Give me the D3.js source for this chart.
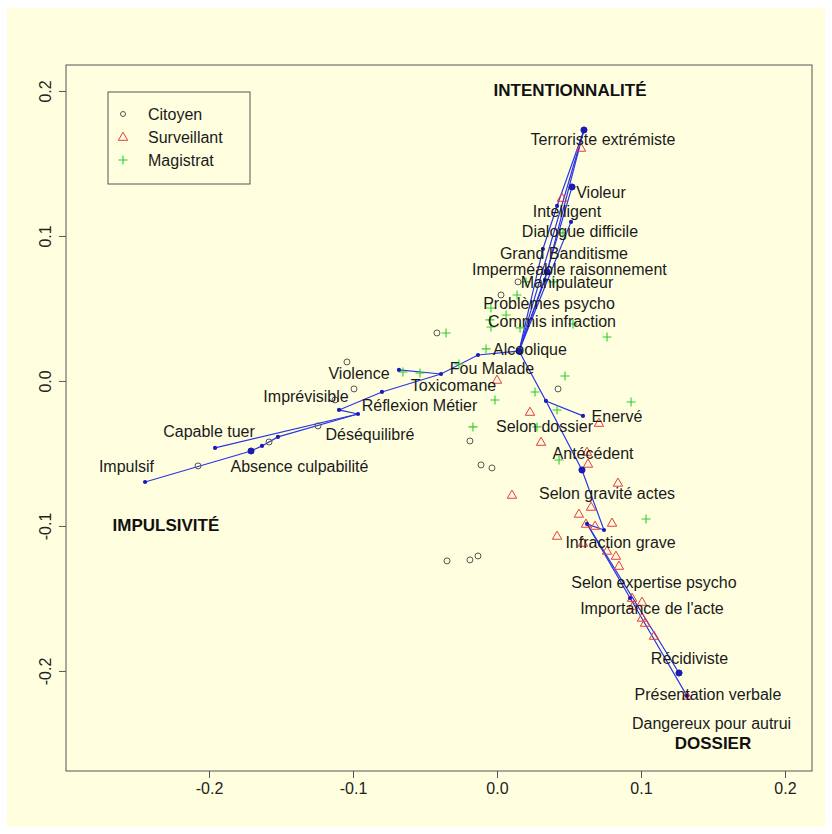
<!DOCTYPE html>
<html>
<head>
<meta charset="utf-8">
<script src="https://cdn.jsdelivr.net/npm/d3@7"></script>
<style>
  html, body { margin: 0; padding: 0; background: #ffffff; }
  svg { display: block; font-family: "Liberation Sans", Arial, sans-serif; }
</style>
</head>
<body>
<svg id="chart" width="832" height="834"></svg>
<script>
// Factor map coordinates (dimension 1, dimension 2)

// Respondent groups
const citoyen = [
  [-0.0417, 0.0331], [-0.1042, 0.0131], [-0.0993, -0.0055], [-0.1125, -0.0131],
  [-0.1243, -0.0310], [-0.1583, -0.0421], [-0.1708, -0.0483], [-0.2076, -0.0586],
  [0.0146, 0.0683], [0.0028, 0.0593], [0.0424, -0.0055], [-0.0188, -0.0414],
  [-0.0111, -0.0579], [-0.0035, -0.0600], [-0.0347, -0.1241], [-0.0188, -0.1234],
  [-0.0132, -0.1207], [0.0604, 0.1731], [0.0521, 0.1338], [0.0590, -0.0614],
  [0.1264, -0.2014]
];

const surveillant = [
  [0.0583, 0.1607], [0.0451, 0.1262], [0.0000, 0.0007], [0.0229, -0.0214],
  [0.0708, -0.0290], [0.0306, -0.0421], [0.0625, -0.0490], [0.0632, -0.0572],
  [0.0840, -0.0703], [0.0104, -0.0786], [0.0653, -0.0869], [0.0569, -0.0917],
  [0.0799, -0.0979], [0.0681, -0.1000], [0.0618, -0.0986], [0.0417, -0.1069],
  [0.0597, -0.1117], [0.0764, -0.1172], [0.0826, -0.1207], [0.0847, -0.1276],
  [0.0938, -0.1497], [0.1007, -0.1524], [0.0944, -0.1552], [0.1007, -0.1634],
  [0.1028, -0.1669], [0.1090, -0.1759], [0.1319, -0.2172]
];

const magistrat = [
  [0.0458, 0.1021], [0.0201, 0.0683], [0.0389, 0.0683], [0.0139, 0.0593],
  [-0.0042, 0.0503], [0.0063, 0.0455], [-0.0049, 0.0421], [-0.0042, 0.0372],
  [0.0160, 0.0366], [0.0528, 0.0393], [-0.0354, 0.0331], [0.0764, 0.0303],
  [-0.0076, 0.0221], [-0.0264, 0.0117], [-0.0653, 0.0062], [-0.0535, 0.0055],
  [0.0472, 0.0034], [0.0264, -0.0076], [-0.0014, -0.0131], [0.0931, -0.0145],
  [0.0417, -0.0200], [-0.0167, -0.0317], [0.0278, -0.0317], [0.0431, -0.0545],
  [0.1035, -0.0952]
];

// Nodes of the connecting network
const nodeNames = ["H", "T", "V", "I1", "I2", "G", "M1", "M2", "F1", "Tx", "Vi", "R1", "R2", "R3",
  "C", "D1", "D2", "D3", "Imp", "S1", "E", "A", "G2", "G3", "P1", "Rc", "Pv"];
const nodeX = [0.0153, 0.0604, 0.0521, 0.0514, 0.0417, 0.0319, 0.0347, 0.0333, -0.0132, -0.0389,
  -0.0681, -0.0799, -0.1097, -0.0965, -0.1958, -0.1521, -0.1632, -0.1708, -0.2444, 0.0340,
  0.0597, 0.0590, 0.0743, 0.0625, 0.0924, 0.1264, 0.1319];
const nodeY = [0.0207, 0.1731, 0.1338, 0.1097, 0.1207, 0.0910, 0.0752, 0.0697, 0.0179, 0.0048,
  0.0076, -0.0076, -0.0200, -0.0228, -0.0462, -0.0386, -0.0448, -0.0483, -0.0697, -0.0138,
  -0.0241, -0.0614, -0.1028, -0.0986, -0.1497, -0.2014, -0.2172];
const bigNodes = ["H", "T", "V", "A", "Rc", "D3", "M1"];

// Chains of nodes joined by segments
const chains = [
  ["H", "M2", "T"],
  ["H", "G", "I2", "T"],
  ["H", "T"],
  ["H", "M1", "V"],
  ["H", "I1"],
  ["H", "F1", "Tx", "Vi"],
  ["Tx", "R1", "R2", "R3", "C"],
  ["R3", "D1", "D2", "D3", "Imp"],
  ["H", "S1", "E"],
  ["S1", "A", "G2", "G3", "P1", "Pv"],
  ["G3", "Rc"]
];

// Variable labels
const labelText = ["Terroriste extrémiste", "Violeur", "Intelligent", "Dialogue difficile",
  "Grand Banditisme", "Imperméable raisonnement", "Manipulateur", "Problèmes psycho",
  "Commis infraction", "Alcoolique", "Fou Malade", "Violence", "Toxicomane", "Imprévisible",
  "Réflexion Métier", "Capable tuer", "Déséquilibré", "Impulsif", "Absence culpabilité",
  "Enervé", "Selon dossier", "Antécédent", "Selon gravité actes", "Infraction grave",
  "Selon expertise psycho", "Importance de l'acte", "Récidiviste", "Présentation verbale",
  "Dangereux pour autrui"];
const labelX = [0.0736, 0.0722, 0.0486, 0.0576, 0.0465, 0.0503, 0.0486, 0.0361, 0.0382, 0.0229,
  -0.0035, -0.0958, -0.0302, -0.1326, -0.0538, -0.2000, -0.0882, -0.2573, -0.1372, 0.0833,
  0.0330, 0.0667, 0.0764, 0.0858, 0.1090, 0.1076, 0.1337, 0.1465, 0.1490];
const labelY = [0.1662, 0.1303, 0.1166, 0.1028, 0.0876, 0.0772, 0.0676, 0.0531, 0.0407, 0.0214,
  0.0083, 0.0048, -0.0028, -0.0110, -0.0172, -0.0352, -0.0366, -0.0593, -0.0593, -0.0248,
  -0.0317, -0.0503, -0.0779, -0.1117, -0.1393, -0.1572, -0.1917, -0.2159, -0.2359];

// Axis titles placed inside the plot
const axisTitles = ["INTENTIONNALITÉ", "IMPULSIVITÉ", "DOSSIER"];
const axisTitleX = [0.0507, -0.2299, 0.1500];
const axisTitleY = [0.2000, -0.1000, -0.2503];

const xTicks = [-0.2, -0.1, 0.0, 0.1, 0.2];
const yTicks = [-0.2, -0.1, 0.0, 0.1, 0.2];

const legendNames = ["Citoyen", "Surveillant", "Magistrat"];

// ---------------------------------------------------------------
const svg = d3.select("#chart");
const plot = { left: 66, right: 812, top: 65, bottom: 771 };
const fontFamily = "'Liberation Sans', Arial, sans-serif";

const x = d3.scaleLinear().domain([-0.2993, 0.21875]).range([plot.left, plot.right]);
const y = d3.scaleLinear().domain([-0.269, 0.2179]).range([plot.bottom, plot.top]);

const colCit = "#555555", colSur = "#e53b3b", colMag = "#2fcc2f", colNet = "#2a35e6";

svg.append("rect").attr("x", 7).attr("y", 8).attr("width", 818).attr("height", 819)
  .attr("fill", "#ffffe0");

// Axes
const fmt = d => d3.format(".1f")(d).replace("−", "-");
const gx = svg.append("g").attr("transform", `translate(0,${plot.bottom})`)
  .call(d3.axisBottom(x).tickValues(xTicks).tickFormat(fmt).tickSize(7).tickPadding(5));
const gy = svg.append("g").attr("transform", `translate(${plot.left},0)`)
  .call(d3.axisLeft(y).tickValues(yTicks).tickFormat(fmt).tickSize(7).tickPadding(7));
[gx, gy].forEach(g => {
  g.select(".domain").remove();
  g.selectAll(".tick line").attr("stroke", "#555");
  g.selectAll(".tick text").attr("fill", "#222").style("font-size", "16px")
    .style("font-family", fontFamily);
});
gy.selectAll(".tick text")
  .attr("text-anchor", "middle")
  .attr("x", null).attr("dy", "0.35em")
  .attr("transform", "translate(-21,0) rotate(-90)");

svg.append("rect").attr("x", plot.left).attr("y", plot.top)
  .attr("width", plot.right - plot.left).attr("height", plot.bottom - plot.top)
  .attr("fill", "none").attr("stroke", "#555").attr("stroke-width", 1);

// Network segments
const nodeIdx = name => nodeNames.indexOf(name);
const line = d3.line().x(n => x(nodeX[nodeIdx(n)])).y(n => y(nodeY[nodeIdx(n)]));
svg.append("g").selectAll("path").data(chains).join("path")
  .attr("d", line).attr("fill", "none").attr("stroke", colNet).attr("stroke-width", 1.2);

// Respondent symbols
const gPts = svg.append("g");
gPts.selectAll("circle.cit").data(citoyen).join("circle").attr("class", "cit")
  .attr("cx", d => x(d[0])).attr("cy", d => y(d[1])).attr("r", 3)
  .attr("fill", "none").attr("stroke", colCit).attr("stroke-width", 1);

const tri = d3.symbol().type(d3.symbolTriangle).size(38);
gPts.selectAll("path.sur").data(surveillant).join("path").attr("class", "sur")
  .attr("d", tri).attr("transform", d => `translate(${x(d[0])},${y(d[1]) + 0.6})`)
  .attr("fill", "none").attr("stroke", colSur).attr("stroke-width", 1);

const cross = d => { const cx = x(d[0]), cy = y(d[1]), s = 4.5;
  return `M${cx - s},${cy}H${cx + s}M${cx},${cy - s}V${cy + s}`; };
gPts.selectAll("path.mag").data(magistrat).join("path").attr("class", "mag")
  .attr("d", cross).attr("stroke", colMag).attr("stroke-width", 1.1);

// Network nodes
svg.append("g").selectAll("circle").data(nodeNames).join("circle")
  .attr("cx", n => x(nodeX[nodeIdx(n)])).attr("cy", n => y(nodeY[nodeIdx(n)]))
  .attr("r", n => bigNodes.includes(n) ? 3.3 : 2.1)
  .attr("fill", "#1a1ab8");

// Labels
svg.append("g").selectAll("text").data(labelText).join("text")
  .attr("x", (t, i) => x(labelX[i])).attr("y", (t, i) => y(labelY[i]))
  .attr("text-anchor", "middle").attr("dominant-baseline", "central")
  .style("font-size", "16px").attr("fill", "#1a1a1a").text(t => t);

svg.append("g").selectAll("text").data(axisTitles).join("text")
  .attr("x", (t, i) => x(axisTitleX[i])).attr("y", (t, i) => y(axisTitleY[i]))
  .attr("text-anchor", "middle").attr("dominant-baseline", "central")
  .style("font-size", "17px").style("font-weight", "bold").attr("fill", "#111").text(t => t);

// Legend
const lg = svg.append("g");
lg.append("rect").attr("x", 108).attr("y", 92).attr("width", 142).attr("height", 92)
  .attr("fill", "none").attr("stroke", "#555").attr("stroke-width", 1);
const rowY = i => 114 + i * 23;
lg.append("circle").attr("cx", 123).attr("cy", rowY(0)).attr("r", 2.5)
  .attr("fill", "none").attr("stroke", colCit);
lg.append("path").attr("d", tri).attr("transform", `translate(123,${rowY(1) + 0.6})`)
  .attr("fill", "none").attr("stroke", colSur);
lg.append("path").attr("d", cross([x.invert(123), y.invert(rowY(2))]))
  .attr("stroke", colMag).attr("stroke-width", 1.1);
lg.selectAll("text").data(legendNames).join("text")
  .attr("x", 148).attr("y", (d, i) => rowY(i)).attr("dominant-baseline", "central")
  .style("font-size", "16px").attr("fill", "#1a1a1a").text(d => d);
</script>
</body>
</html>
